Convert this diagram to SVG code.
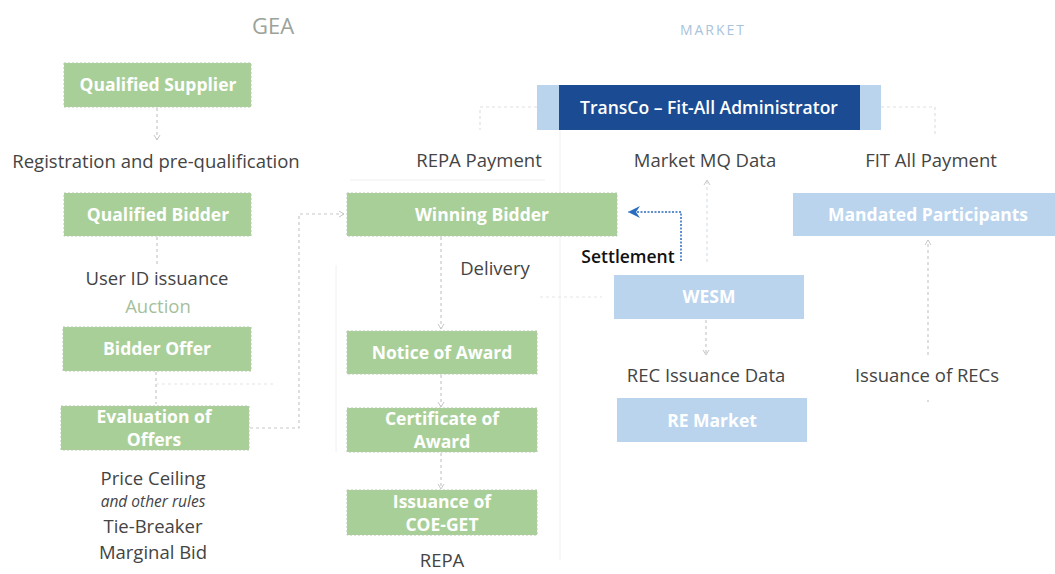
<svg xmlns="http://www.w3.org/2000/svg" width="1055" height="574" viewBox="0 0 1055 574">
<defs>
<marker id="ah" markerWidth="8" markerHeight="8" refX="6" refY="4" orient="auto" markerUnits="userSpaceOnUse">
<path d="M1,1 L6,4 L1,7" fill="none" stroke="#c8c8c8" stroke-width="1"/>
</marker>
<marker id="ahb" markerWidth="14" markerHeight="12" refX="12" refY="6" orient="auto" markerUnits="userSpaceOnUse">
<path d="M0,0 L12,6 L0,12 L4,6 Z" fill="#2a6cc0"/>
</marker>
<style>
.g{fill:#a9cf98;stroke:#b5c9ae;stroke-width:1;stroke-dasharray:2 2}
.lb{fill:#bad4ee}
.db{fill:#1b4c93}
.nt{font-family:"Open Sans","Liberation Sans",sans-serif;font-size:17.5px;font-weight:bold;fill:#ffffff;text-anchor:middle}
.lt{font-family:"Open Sans","Liberation Sans",sans-serif;font-size:18.5px;fill:#444444;text-anchor:middle}
.c{fill:none;stroke:#c8c8c8;stroke-width:1.2;stroke-dasharray:3 3}
.f{fill:none;stroke:#f0f0f0;stroke-width:1}
</style>
</defs>
<rect width="1055" height="574" fill="#ffffff"/>
<text x="273" y="34" style="font-family:'Open Sans','Liberation Sans',sans-serif;font-size:22px;fill:#9aa39a;text-anchor:middle">GEA</text>
<text x="713" y="35" style="font-family:'Open Sans','Liberation Sans',sans-serif;font-size:14px;letter-spacing:2px;fill:#a9c3dc;text-anchor:middle">MARKET</text>

<g id="faint">
<line class="f" x1="336" y1="265" x2="336" y2="452"/>
<line class="f" x1="560" y1="130" x2="560" y2="560"/>
<line class="f" x1="350" y1="180" x2="545" y2="180"/>
</g>

<g id="connectors">
<line class="c" x1="157" y1="108" x2="157" y2="140" marker-end="url(#ah)"/>
<line class="c" x1="157" y1="237" x2="157" y2="265"/>
<line class="c" x1="156" y1="372" x2="156" y2="404"/>
<line class="c" x1="156" y1="384" x2="275" y2="384" style="stroke:#e6e6e6"/>
<polyline class="c" points="250,428 299,428 299,214 344,214" marker-end="url(#ah)"/>
<line class="c" x1="441" y1="237" x2="441" y2="329" marker-end="url(#ah)"/>
<line class="c" x1="441" y1="375" x2="441" y2="407" marker-end="url(#ah)"/>
<line class="c" x1="441" y1="453" x2="441" y2="489" marker-end="url(#ah)"/>
<polyline class="c" points="537,107 480,107 480,130" style="stroke:#e0e0e0"/>
<polyline class="c" points="881,107 935,107 935,135" style="stroke:#e0e0e0"/>
<line class="c" x1="707" y1="262" x2="707" y2="180" marker-end="url(#ah)" style="stroke:#d6dfe6"/>
<line class="c" x1="706" y1="320" x2="706" y2="355" marker-end="url(#ah)"/>
<line class="c" x1="928" y1="355" x2="928" y2="240" marker-end="url(#ah)"/>
<line class="c" x1="540" y1="297" x2="602" y2="297" style="stroke:#e6e6e6"/>
<polyline points="681,261 681,212 628,212" fill="none" stroke="#2a6cc0" stroke-width="1.5" stroke-dasharray="2 1.5" marker-end="url(#ahb)"/>
<circle cx="928" cy="401" r="1" fill="#d0d0d0"/>
</g>

<g id="qualified-supplier"><rect class="g" x="64" y="63" width="187" height="44"/><text class="nt" x="158" y="91">Qualified Supplier</text></g>
<text class="lt" x="156" y="168">Registration and pre-qualification</text>
<g id="qualified-bidder"><rect class="g" x="64" y="193" width="187" height="43"/><text class="nt" x="158" y="221">Qualified Bidder</text></g>
<text class="lt" x="157" y="285">User ID issuance</text>
<text x="158" y="313" style="font-family:'Open Sans','Liberation Sans',sans-serif;font-size:18.5px;fill:#a5bf9c;text-anchor:middle">Auction</text>
<g id="bidder-offer"><rect class="g" x="63" y="327" width="188" height="44"/><text class="nt" x="157" y="355">Bidder Offer</text></g>
<g id="evaluation-of-offers"><rect class="g" x="61" y="406" width="188" height="44"/><text class="nt" x="154" y="423">Evaluation of</text><text class="nt" x="154" y="446">Offers</text></g>
<text class="lt" x="153" y="485">Price Ceiling</text>
<text class="lt" x="153" y="507" style="font-style:italic;font-size:15.5px">and other rules</text>
<text class="lt" x="153" y="533">Tie-Breaker</text>
<text class="lt" x="153" y="559">Marginal Bid</text>

<g id="transco"><rect class="lb" x="537" y="85" width="344" height="45"/><rect class="db" x="559" y="85" width="301" height="45"/><text class="nt" x="709" y="114" style="font-weight:600">TransCo – Fit-All Administrator</text></g>
<text class="lt" x="479" y="167">REPA Payment</text>
<text class="lt" x="705" y="167">Market MQ Data</text>
<text class="lt" x="931" y="167">FIT All Payment</text>

<g id="winning-bidder"><rect class="g" x="347" y="193" width="270" height="43"/><text class="nt" x="482" y="221">Winning Bidder</text></g>
<g id="mandated-participants"><rect class="lb" x="793" y="193" width="262" height="43"/><text class="nt" x="928" y="221">Mandated Participants</text></g>
<text x="628" y="263" style="font-family:'Open Sans','Liberation Sans',sans-serif;font-size:17.5px;font-weight:600;fill:#111111;text-anchor:middle">Settlement</text>
<text class="lt" x="495" y="275">Delivery</text>

<g id="wesm"><rect class="lb" x="614" y="275" width="190" height="44"/><text class="nt" x="709" y="303">WESM</text></g>
<g id="notice-of-award"><rect class="g" x="347" y="331" width="190" height="43"/><text class="nt" x="442" y="359">Notice of Award</text></g>
<text class="lt" x="706" y="382">REC Issuance Data</text>
<text class="lt" x="927" y="382">Issuance of RECs</text>
<g id="re-market"><rect class="lb" x="617" y="398" width="190" height="44"/><text class="nt" x="712" y="427">RE Market</text></g>
<g id="certificate-of-award"><rect class="g" x="347" y="408" width="190" height="44"/><text class="nt" x="442" y="425">Certificate of</text><text class="nt" x="442" y="448">Award</text></g>
<g id="issuance-coe-get"><rect class="g" x="347" y="490" width="190" height="45"/><text class="nt" x="442" y="508">Issuance of</text><text class="nt" x="442" y="531">COE-GET</text></g>
<text class="lt" x="442" y="567">REPA</text>
</svg>
